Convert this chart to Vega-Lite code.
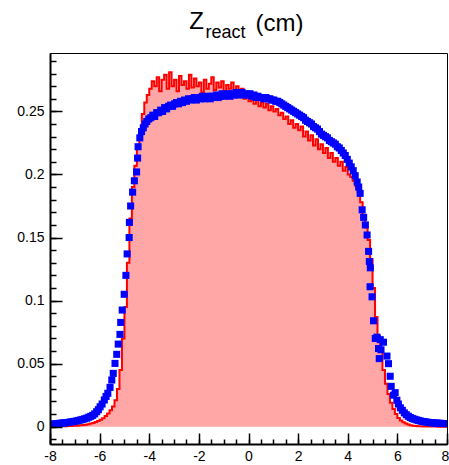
{
  "$schema": "https://vega.github.io/schema/vega-lite/v6.json",
  "width": 397,
  "height": 391,
  "autosize": {"type": "none"},
  "padding": {"left": 50, "top": 53, "right": 2, "bottom": 21},
  "background": "white",
  "config": {
    "view": {"stroke": "black", "strokeWidth": 1},
    "font": "Liberation Sans",
    "axis": {"grid": false, "labelFont": "Liberation Sans", "labelFontSize": 14, "labelColor": "#000", "domainColor": "#000", "tickColor": "#000", "labelFlush": false, "labelOverlap": false}
  },
  "title": {
    "text": "Z",
    "font": "Liberation Sans",
    "fontSize": 24,
    "fontWeight": "normal",
    "color": "#000",
    "anchor": "middle",
    "offset": -23,
    "dx": -52
  },
  "datasets": {
    "red": [
      {"x":-8.0,"y":0},{"x":-7.9,"y":0},{"x":-7.8,"y":0},{"x":-7.7,"y":0.0002},{"x":-7.6,"y":0.0003},{"x":-7.5,"y":0.0003},{"x":-7.4,"y":0.0004},{"x":-7.3,"y":0.0005},{"x":-7.2,"y":0.0006},{"x":-7.1,"y":0.0007},
      {"x":-7.0,"y":0.0008},{"x":-6.9,"y":0.001},{"x":-6.8,"y":0.0011},{"x":-6.7,"y":0.0013},{"x":-6.6,"y":0.0016},{"x":-6.5,"y":0.002},{"x":-6.4,"y":0.0025},{"x":-6.3,"y":0.003},{"x":-6.2,"y":0.0038},{"x":-6.1,"y":0.0045},
      {"x":-6.0,"y":0.0055},{"x":-5.9,"y":0.0068},{"x":-5.8,"y":0.0085},{"x":-5.7,"y":0.0105},{"x":-5.6,"y":0.013},{"x":-5.5,"y":0.016},{"x":-5.4,"y":0.021},{"x":-5.3,"y":0.03},{"x":-5.2,"y":0.045},{"x":-5.1,"y":0.07},
      {"x":-5.0,"y":0.095},{"x":-4.9,"y":0.13},{"x":-4.8,"y":0.165},{"x":-4.7,"y":0.19},{"x":-4.6,"y":0.207},{"x":-4.5,"y":0.222},{"x":-4.4,"y":0.236},{"x":-4.3,"y":0.248},{"x":-4.2,"y":0.257},{"x":-4.1,"y":0.263},
      {"x":-4.0,"y":0.268},{"x":-3.9,"y":0.274},{"x":-3.8,"y":0.27},{"x":-3.7,"y":0.277},{"x":-3.6,"y":0.266},{"x":-3.5,"y":0.275},{"x":-3.4,"y":0.279},{"x":-3.3,"y":0.268},{"x":-3.2,"y":0.281},{"x":-3.1,"y":0.27},
      {"x":-3.0,"y":0.275},{"x":-2.9,"y":0.266},{"x":-2.8,"y":0.278},{"x":-2.7,"y":0.271},{"x":-2.6,"y":0.274},{"x":-2.5,"y":0.268},{"x":-2.4,"y":0.279},{"x":-2.3,"y":0.269},{"x":-2.2,"y":0.276},{"x":-2.1,"y":0.27},
      {"x":-2.0,"y":0.273},{"x":-1.9,"y":0.265},{"x":-1.8,"y":0.275},{"x":-1.7,"y":0.268},{"x":-1.6,"y":0.272},{"x":-1.5,"y":0.277},{"x":-1.4,"y":0.267},{"x":-1.3,"y":0.273},{"x":-1.2,"y":0.269},{"x":-1.1,"y":0.274},
      {"x":-1.0,"y":0.266},{"x":-0.9,"y":0.271},{"x":-0.8,"y":0.268},{"x":-0.7,"y":0.273},{"x":-0.6,"y":0.266},{"x":-0.5,"y":0.27},{"x":-0.4,"y":0.263},{"x":-0.3,"y":0.268},{"x":-0.2,"y":0.26},{"x":-0.1,"y":0.262},
      {"x":0.0,"y":0.258},{"x":0.1,"y":0.261},{"x":0.2,"y":0.256},{"x":0.3,"y":0.259},{"x":0.4,"y":0.254},{"x":0.5,"y":0.257},{"x":0.6,"y":0.253},{"x":0.7,"y":0.256},{"x":0.8,"y":0.251},{"x":0.9,"y":0.254},
      {"x":1.0,"y":0.25},{"x":1.1,"y":0.252},{"x":1.2,"y":0.247},{"x":1.3,"y":0.249},{"x":1.4,"y":0.244},{"x":1.5,"y":0.246},{"x":1.6,"y":0.24},{"x":1.7,"y":0.243},{"x":1.8,"y":0.237},{"x":1.9,"y":0.24},
      {"x":2.0,"y":0.235},{"x":2.1,"y":0.238},{"x":2.2,"y":0.23},{"x":2.3,"y":0.234},{"x":2.4,"y":0.227},{"x":2.5,"y":0.231},{"x":2.6,"y":0.223},{"x":2.7,"y":0.228},{"x":2.8,"y":0.22},{"x":2.9,"y":0.224},
      {"x":3.0,"y":0.217},{"x":3.1,"y":0.221},{"x":3.2,"y":0.213},{"x":3.3,"y":0.217},{"x":3.4,"y":0.21},{"x":3.5,"y":0.213},{"x":3.6,"y":0.207},{"x":3.7,"y":0.21},{"x":3.8,"y":0.203},{"x":3.9,"y":0.206},
      {"x":4.0,"y":0.2},{"x":4.1,"y":0.198},{"x":4.2,"y":0.195},{"x":4.3,"y":0.191},{"x":4.4,"y":0.186},{"x":4.5,"y":0.178},{"x":4.6,"y":0.168},{"x":4.7,"y":0.158},{"x":4.8,"y":0.148},{"x":4.9,"y":0.133},
      {"x":5.0,"y":0.11},{"x":5.1,"y":0.087},{"x":5.2,"y":0.072},{"x":5.3,"y":0.06},{"x":5.4,"y":0.045},{"x":5.5,"y":0.034},{"x":5.6,"y":0.026},{"x":5.7,"y":0.019},{"x":5.8,"y":0.014},{"x":5.9,"y":0.01},
      {"x":6.0,"y":0.007},{"x":6.1,"y":0.005},{"x":6.2,"y":0.0035},{"x":6.3,"y":0.0025},{"x":6.4,"y":0.0018},{"x":6.5,"y":0.0012},{"x":6.6,"y":0.0008},{"x":6.7,"y":0.0006},{"x":6.8,"y":0.0004},{"x":6.9,"y":0.0003},
      {"x":7.0,"y":0.0002},{"x":7.1,"y":0.0001},{"x":7.2,"y":0.0001},{"x":7.3,"y":0.0001},{"x":7.4,"y":0.0001},{"x":7.5,"y":0.0001},{"x":7.6,"y":0},{"x":7.7,"y":0},{"x":7.8,"y":0},{"x":7.9,"y":0},{"x":8.0,"y":0}
    ],
    "blue": [
      {"x":-7.96,"y":0.002},{"x":-7.88,"y":0.0021},{"x":-7.8,"y":0.0022},{"x":-7.72,"y":0.0024},{"x":-7.64,"y":0.0026},{"x":-7.56,"y":0.0028},{"x":-7.48,"y":0.003},{"x":-7.4,"y":0.0031},{"x":-7.32,"y":0.0033},{"x":-7.24,"y":0.0035},
      {"x":-7.16,"y":0.0038},{"x":-7.08,"y":0.004},{"x":-7.0,"y":0.0043},{"x":-6.92,"y":0.0046},{"x":-6.84,"y":0.005},{"x":-6.76,"y":0.0054},{"x":-6.68,"y":0.0058},{"x":-6.6,"y":0.0063},{"x":-6.52,"y":0.0068},{"x":-6.44,"y":0.0075},
      {"x":-6.36,"y":0.0082},{"x":-6.28,"y":0.009},{"x":-6.2,"y":0.0102},{"x":-6.12,"y":0.0119},{"x":-6.05,"y":0.0135},{"x":-5.98,"y":0.0158},{"x":-5.9,"y":0.018},{"x":-5.81,"y":0.0212},{"x":-5.74,"y":0.024},{"x":-5.67,"y":0.0265},
      {"x":-5.58,"y":0.0312},{"x":-5.51,"y":0.037},{"x":-5.45,"y":0.0423},{"x":-5.38,"y":0.0502},{"x":-5.31,"y":0.0574},{"x":-5.25,"y":0.0655},{"x":-5.18,"y":0.0732},{"x":-5.15,"y":0.0827},{"x":-5.09,"y":0.0925},{"x":-5.01,"y":0.105},
      {"x":-4.94,"y":0.12},{"x":-4.89,"y":0.137},{"x":-4.81,"y":0.15},{"x":-4.8,"y":0.162},{"x":-4.75,"y":0.175},{"x":-4.67,"y":0.186},{"x":-4.6,"y":0.195},{"x":-4.51,"y":0.202},{"x":-4.47,"y":0.213},{"x":-4.45,"y":0.222},
      {"x":-4.38,"y":0.229},{"x":-4.31,"y":0.234},{"x":-4.24,"y":0.237},{"x":-4.17,"y":0.24},{"x":-4.1,"y":0.242},{"x":-4.02,"y":0.244},{"x":-3.94,"y":0.245},{"x":-3.86,"y":0.247},{"x":-3.78,"y":0.246},{"x":-3.7,"y":0.249},
      {"x":-3.62,"y":0.249},{"x":-3.54,"y":0.251},{"x":-3.46,"y":0.25},{"x":-3.38,"y":0.253},{"x":-3.3,"y":0.252},{"x":-3.22,"y":0.254},{"x":-3.14,"y":0.255},{"x":-3.06,"y":0.254},{"x":-2.98,"y":0.256},{"x":-2.9,"y":0.257},
      {"x":-2.82,"y":0.256},{"x":-2.74,"y":0.258},{"x":-2.66,"y":0.257},{"x":-2.58,"y":0.259},{"x":-2.5,"y":0.258},{"x":-2.42,"y":0.26},{"x":-2.34,"y":0.259},{"x":-2.26,"y":0.26},{"x":-2.18,"y":0.261},{"x":-2.1,"y":0.259},
      {"x":-2.02,"y":0.261},{"x":-1.94,"y":0.26},{"x":-1.86,"y":0.262},{"x":-1.78,"y":0.26},{"x":-1.7,"y":0.261},{"x":-1.62,"y":0.262},{"x":-1.54,"y":0.26},{"x":-1.46,"y":0.262},{"x":-1.38,"y":0.261},{"x":-1.3,"y":0.263},
      {"x":-1.22,"y":0.261},{"x":-1.14,"y":0.262},{"x":-1.06,"y":0.264},{"x":-0.98,"y":0.262},{"x":-0.9,"y":0.263},{"x":-0.82,"y":0.264},{"x":-0.74,"y":0.262},{"x":-0.66,"y":0.264},{"x":-0.58,"y":0.263},{"x":-0.5,"y":0.265},
      {"x":-0.42,"y":0.263},{"x":-0.34,"y":0.264},{"x":-0.26,"y":0.265},{"x":-0.18,"y":0.263},{"x":-0.1,"y":0.264},{"x":-0.02,"y":0.263},{"x":0.06,"y":0.264},{"x":0.14,"y":0.262},{"x":0.22,"y":0.263},{"x":0.3,"y":0.261},
      {"x":0.38,"y":0.262},{"x":0.46,"y":0.261},{"x":0.54,"y":0.261},{"x":0.62,"y":0.26},{"x":0.7,"y":0.261},{"x":0.78,"y":0.26},{"x":0.86,"y":0.26},{"x":0.94,"y":0.259},{"x":1.02,"y":0.259},{"x":1.1,"y":0.258},
      {"x":1.18,"y":0.258},{"x":1.26,"y":0.257},{"x":1.34,"y":0.256},{"x":1.42,"y":0.255},{"x":1.5,"y":0.254},{"x":1.58,"y":0.253},{"x":1.66,"y":0.252},{"x":1.74,"y":0.251},{"x":1.82,"y":0.25},{"x":1.9,"y":0.249},
      {"x":1.98,"y":0.248},{"x":2.06,"y":0.247},{"x":2.14,"y":0.246},{"x":2.22,"y":0.245},{"x":2.3,"y":0.243},{"x":2.38,"y":0.242},{"x":2.46,"y":0.241},{"x":2.54,"y":0.24},{"x":2.62,"y":0.238},{"x":2.7,"y":0.237},
      {"x":2.78,"y":0.236},{"x":2.86,"y":0.234},{"x":2.94,"y":0.232},{"x":3.02,"y":0.231},{"x":3.1,"y":0.23},{"x":3.18,"y":0.229},{"x":3.26,"y":0.227},{"x":3.34,"y":0.226},{"x":3.42,"y":0.225},{"x":3.5,"y":0.224},
      {"x":3.58,"y":0.222},{"x":3.66,"y":0.221},{"x":3.74,"y":0.219},{"x":3.82,"y":0.217},{"x":3.9,"y":0.215},{"x":3.98,"y":0.212},{"x":4.06,"y":0.209},{"x":4.14,"y":0.206},{"x":4.22,"y":0.203},{"x":4.3,"y":0.199},
      {"x":4.38,"y":0.194},{"x":4.44,"y":0.19},{"x":4.5,"y":0.185},{"x":4.58,"y":0.172},{"x":4.64,"y":0.166},{"x":4.71,"y":0.16},{"x":4.78,"y":0.152},{"x":4.84,"y":0.139},{"x":4.87,"y":0.131},{"x":4.91,"y":0.126},
      {"x":4.9,"y":0.111},{"x":4.98,"y":0.103},{"x":5.04,"y":0.084},{"x":5.11,"y":0.07},{"x":5.18,"y":0.071},{"x":5.24,"y":0.062},{"x":5.27,"y":0.054},{"x":5.31,"y":0.069},{"x":5.34,"y":0.061},{"x":5.44,"y":0.067},
      {"x":5.58,"y":0.056},{"x":5.64,"y":0.05},{"x":5.71,"y":0.04},{"x":5.75,"y":0.032},{"x":5.84,"y":0.025},{"x":5.91,"y":0.027},{"x":5.98,"y":0.021},{"x":6.04,"y":0.018},{"x":6.12,"y":0.015},{"x":6.2,"y":0.013},
      {"x":6.28,"y":0.011},{"x":6.36,"y":0.0095},{"x":6.44,"y":0.0083},{"x":6.52,"y":0.0073},{"x":6.6,"y":0.0066},{"x":6.68,"y":0.006},{"x":6.76,"y":0.0055},{"x":6.84,"y":0.005},{"x":6.92,"y":0.0046},{"x":7.0,"y":0.0042},
      {"x":7.08,"y":0.004},{"x":7.16,"y":0.0037},{"x":7.24,"y":0.0035},{"x":7.32,"y":0.0033},{"x":7.4,"y":0.0031},{"x":7.48,"y":0.003},{"x":7.56,"y":0.0029},{"x":7.64,"y":0.0028},{"x":7.72,"y":0.0027},{"x":7.8,"y":0.0026},
      {"x":7.88,"y":0.0025},{"x":7.96,"y":0.0025}
    ]
  },
  "layer": [
    {
      "data": {"name": "red"},
      "mark": {"type": "area", "interpolate": "step-after", "fill": "#ff0000", "fillOpacity": 0.35},
      "encoding": {
        "x": {"field": "x", "type": "quantitative", "scale": {"domain": [-8, 8], "nice": false, "zero": false},
              "axis": {"orient": "bottom", "title": null, "values": [-8, -6, -4, -2, 0, 2, 4, 6, 8], "ticks": false, "domain": false, "labelPadding": 5, "labelExpr": "'' + datum.value",
                       "labelOffset": {"condition": {"test": "datum.value == 8", "value": -2}, "value": 0}}},
        "y": {"field": "y", "type": "quantitative", "scale": {"domain": [-0.0137, 0.2963], "nice": false, "zero": false},
              "axis": {"orient": "left", "title": null, "values": [0, 0.05, 0.1, 0.15, 0.2, 0.25], "ticks": false, "domain": false, "labelPadding": 6, "labelExpr": "'' + datum.value"}},
        "y2": {"datum": 0}
      }
    },
    {
      "data": {"name": "red"},
      "mark": {"type": "line", "interpolate": "step-after", "stroke": "#ff0000", "strokeWidth": 2},
      "encoding": {
        "x": {"field": "x", "type": "quantitative",
              "axis": {"orient": "bottom", "title": null, "values": [-8, -6, -4, -2, 0, 2, 4, 6, 8], "labels": false, "tickSize": -11, "tickWidth": 1.5, "domain": true, "domainWidth": 2, "zindex": 1}},
        "y": {"field": "y", "type": "quantitative",
              "axis": {"orient": "left", "title": "react", "titleAngle": 0, "titleX": 155, "titleY": -16, "titleAlign": "left", "titleBaseline": "alphabetic",
                       "titleFont": "Liberation Sans", "titleFontSize": 18, "titleFontWeight": "normal", "titleColor": "#000",
                       "values": [0, 0.05, 0.1, 0.15, 0.2, 0.25], "labels": false, "tickSize": -12, "tickWidth": 1.5, "domain": true, "domainWidth": 2, "zindex": 1}}
      }
    },
    {
      "data": {"name": "blue"},
      "mark": {"type": "point", "shape": "square", "filled": true, "size": 50, "color": "#0000ff", "opacity": 1, "clip": true},
      "encoding": {
        "x": {"field": "x", "type": "quantitative",
              "axis": {"orient": "bottom", "title": null, "values": [-8, -7.5, -7, -6.5, -6, -5.5, -5, -4.5, -4, -3.5, -3, -2.5, -2, -1.5, -1, -0.5, 0, 0.5, 1, 1.5, 2, 2.5, 3, 3.5, 4, 4.5, 5, 5.5, 6, 6.5, 7, 7.5, 8], "labels": false, "tickSize": -5, "tickWidth": 1.5, "domain": false, "zindex": 1}},
        "y": {"field": "y", "type": "quantitative",
              "axis": {"orient": "left", "title": "(cm)", "titleAngle": 0, "titleX": 205, "titleY": -23, "titleAlign": "left", "titleBaseline": "alphabetic",
                       "titleFont": "Liberation Sans", "titleFontSize": 24, "titleFontWeight": "normal", "titleColor": "#000",
                       "values": [-0.01, 0, 0.01, 0.02, 0.03, 0.04, 0.05, 0.06, 0.07, 0.08, 0.09, 0.1, 0.11, 0.12, 0.13, 0.14, 0.15, 0.16, 0.17, 0.18, 0.19, 0.2, 0.21, 0.22, 0.23, 0.24, 0.25, 0.26, 0.27, 0.28, 0.29], "labels": false, "tickSize": -6, "tickWidth": 1.5, "domain": false, "zindex": 1}}
      }
    }
  ],
  "resolve": {"axis": {"x": "independent", "y": "independent"}}
}
